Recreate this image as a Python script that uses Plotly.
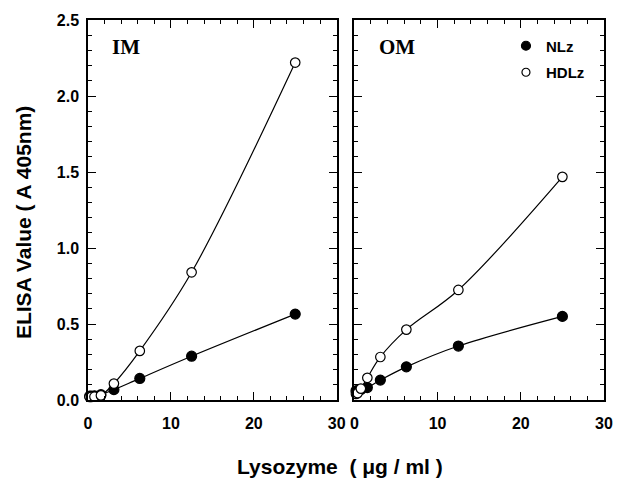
import plotly.graph_objects as go

conc = [0.195, 0.39, 0.78, 1.56, 3.125, 6.25, 12.5, 25.0]

im_nlz = [0.025, 0.025, 0.028, 0.035, 0.068, 0.142, 0.288, 0.565]
im_hdlz = [0.02, 0.02, 0.022, 0.03, 0.108, 0.323, 0.84, 2.22]
om_nlz = [0.06, 0.062, 0.068, 0.082, 0.131, 0.218, 0.355, 0.55]
om_hdlz = [0.04, 0.045, 0.075, 0.146, 0.283, 0.463, 0.724, 1.468]

series_names = ["NLz", "HDLz"]
x_ticks = [0, 10, 20, 30]
y_ticks = [0.0, 0.5, 1.0, 1.5, 2.0, 2.5]

FONT = "Liberation Sans"
fig = go.Figure()

def marker(filled, size):
    return dict(size=size, color="black" if filled else "white",
                symbol="circle", line=dict(color="black", width=1.2))

def add(x, y, filled, xa, ya):
    fig.add_trace(go.Scatter(
        x=x, y=y, mode="lines+markers", showlegend=False,
        xaxis=xa, yaxis=ya,
        line=dict(color="black", width=1.2, shape="spline"),
        marker=marker(filled, 10 if filled else 9.5),
        cliponaxis=False,
    ))

add(conc, im_nlz, True, "x", "y")
add(conc, im_hdlz, False, "x", "y")
add(conc, om_nlz, True, "x2", "y2")
add(conc, om_hdlz, False, "x2", "y2")

# legend-only entries (marker symbol only)
for nm, filled in zip(series_names, [True, False]):
    fig.add_trace(go.Scatter(
        x=[None], y=[None], mode="markers", name=nm, showlegend=True,
        legendgroup=nm, xaxis="x2", yaxis="y2",
        marker=marker(filled, 9 if filled else 8),
    ))

W, H = 625, 479
ml, mr, mt, mb = 88, 12, 18, 79
pw = W - ml - mr
ph = H - mt - mb
d1 = (341 - ml) / pw
d2 = (359 - ml) / pw

axcommon = dict(
    showline=True, linecolor="black", linewidth=1.5, mirror="allticks",
    ticks="inside", ticklen=8, tickwidth=1.2, tickcolor="black",
    showgrid=False, zeroline=False,
    tickfont=dict(family=FONT, size=16, color="black", weight="bold"),
)
xcommon = dict(axcommon, range=[0, 30], tickvals=x_ticks, ticklabelstandoff=8,
               minor=dict(ticks="inside", ticklen=4, dtick=2, tickcolor="black", tickwidth=1.2))
ycommon = dict(axcommon, range=[0, 2.5], tickvals=y_ticks, tickformat=".1f", ticklabelstandoff=4,
               minor=dict(ticks="inside", ticklen=4, dtick=0.1, tickcolor="black", tickwidth=1.2))

fig.update_layout(
    width=W, height=H,
    margin=dict(l=ml, r=mr, t=mt, b=mb),
    paper_bgcolor="white", plot_bgcolor="white",
    xaxis=dict(xcommon, domain=[0, d1], anchor="y"),
    yaxis=dict(ycommon, domain=[0, 1], anchor="x"),
    xaxis2=dict(xcommon, domain=[d2, 1], anchor="y2"),
    yaxis2=dict(ycommon, domain=[0, 1], anchor="x2", showticklabels=False),
    legend=dict(x=0.81, y=0.975, xanchor="left", yanchor="top",
                bgcolor="rgba(0,0,0,0)", font=dict(family=FONT, size=15, color="black", weight="bold"),
                itemsizing="trace", tracegroupgap=4, itemwidth=30),
    showlegend=True,
    annotations=[
        dict(text="IM", xref="x domain", yref="y domain", x=0.09, y=0.93, showarrow=False,
             xanchor="left", yanchor="middle",
             font=dict(family="Liberation Serif", size=21, color="black", weight="bold")),
        dict(text="OM", xref="x2 domain", yref="y2 domain", x=0.09, y=0.93, showarrow=False,
             xanchor="left", yanchor="middle",
             font=dict(family="Liberation Serif", size=21, color="black", weight="bold")),
        dict(text="ELISA Value ( A 405nm)", xref="paper", yref="paper",
             x=(23 - ml) / pw, y=(400 - 222) / ph,
             textangle=-90, showarrow=False, xanchor="center", yanchor="middle",
             font=dict(family=FONT, size=21, color="black", weight="bold")),
        dict(text="Lysozyme  ( μg / ml )", xref="paper", yref="paper",
             x=(344 - ml) / pw, y=(400 - 467) / ph,
             showarrow=False, xanchor="center", yanchor="middle",
             font=dict(family=FONT, size=21, color="black", weight="bold")),
    ],
)

fig.write_html("out.html")
